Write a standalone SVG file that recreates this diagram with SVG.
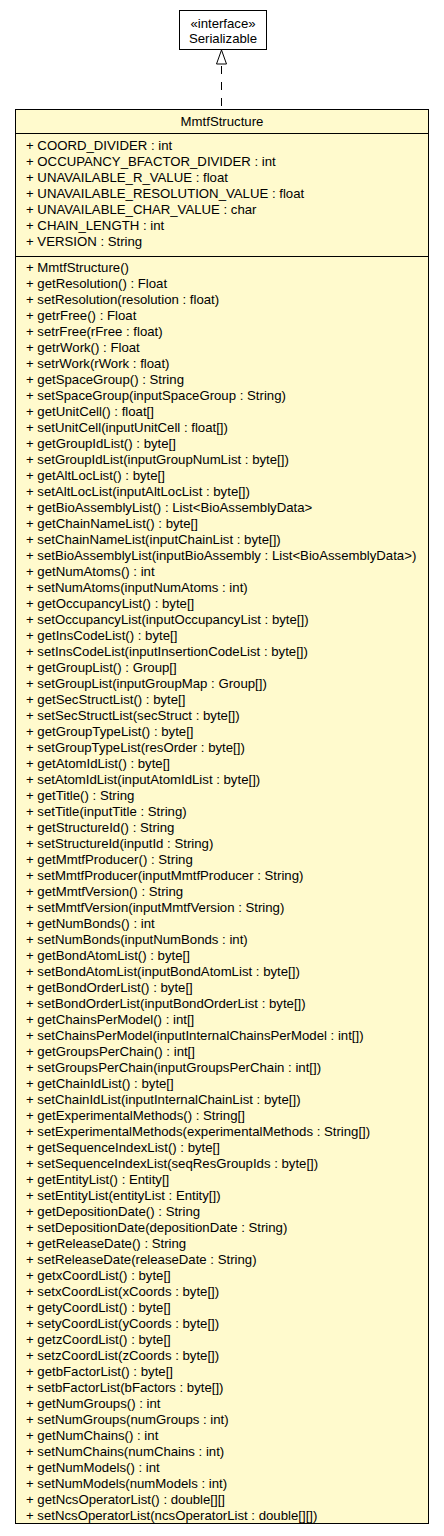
<svg xmlns="http://www.w3.org/2000/svg" width="444" height="1536" viewBox="0 0 444 1536">
<style>
text{font-family:"Liberation Sans",Arial,sans-serif;font-size:13.2px;fill:#000}
.c{text-anchor:middle}
.box{stroke:#000;stroke-width:1}
</style>
<rect width="444" height="1536" fill="#fff"/>
<g id="connectors">
<line x1="221.5" y1="66" x2="221.5" y2="109" stroke="#000" stroke-dasharray="8,8"/>
<polygon points="221.5,50 216.5,64 226.5,64" fill="#fff" stroke="#000"/>
</g>
<g id="Serializable">
<rect class="box" x="179.5" y="10.5" width="87" height="39" fill="#fff"/>
<text class="c" x="223" y="28">«interface»</text>
<text class="c" x="223" y="43">Serializable</text>
</g>
<g id="MmtfStructure">
<rect class="box" x="15.5" y="109.5" width="413" height="1414" fill="#fffacd"/>
<line class="box" x1="15.5" y1="133.5" x2="428.5" y2="133.5"/>
<line class="box" x1="15.5" y1="256.5" x2="428.5" y2="256.5"/>
<text class="c" x="222" y="126">MmtfStructure</text>
<text x="26" y="150">+ COORD_DIVIDER : int</text>
<text x="26" y="166">+ OCCUPANCY_BFACTOR_DIVIDER : int</text>
<text x="26" y="182">+ UNAVAILABLE_R_VALUE : float</text>
<text x="26" y="198">+ UNAVAILABLE_RESOLUTION_VALUE : float</text>
<text x="26" y="214">+ UNAVAILABLE_CHAR_VALUE : char</text>
<text x="26" y="230">+ CHAIN_LENGTH : int</text>
<text x="26" y="246">+ VERSION : String</text>
<text x="26" y="272">+ MmtfStructure()</text>
<text x="26" y="288">+ getResolution() : Float</text>
<text x="26" y="304">+ setResolution(resolution : float)</text>
<text x="26" y="320">+ getrFree() : Float</text>
<text x="26" y="336">+ setrFree(rFree : float)</text>
<text x="26" y="352">+ getrWork() : Float</text>
<text x="26" y="368">+ setrWork(rWork : float)</text>
<text x="26" y="384">+ getSpaceGroup() : String</text>
<text x="26" y="400">+ setSpaceGroup(inputSpaceGroup : String)</text>
<text x="26" y="416">+ getUnitCell() : float[]</text>
<text x="26" y="432">+ setUnitCell(inputUnitCell : float[])</text>
<text x="26" y="448">+ getGroupIdList() : byte[]</text>
<text x="26" y="464">+ setGroupIdList(inputGroupNumList : byte[])</text>
<text x="26" y="480">+ getAltLocList() : byte[]</text>
<text x="26" y="496">+ setAltLocList(inputAltLocList : byte[])</text>
<text x="26" y="512">+ getBioAssemblyList() : List&lt;BioAssemblyData&gt;</text>
<text x="26" y="528">+ getChainNameList() : byte[]</text>
<text x="26" y="544">+ setChainNameList(inputChainList : byte[])</text>
<text x="26" y="560">+ setBioAssemblyList(inputBioAssembly : List&lt;BioAssemblyData&gt;)</text>
<text x="26" y="576">+ getNumAtoms() : int</text>
<text x="26" y="592">+ setNumAtoms(inputNumAtoms : int)</text>
<text x="26" y="608">+ getOccupancyList() : byte[]</text>
<text x="26" y="624">+ setOccupancyList(inputOccupancyList : byte[])</text>
<text x="26" y="640">+ getInsCodeList() : byte[]</text>
<text x="26" y="656">+ setInsCodeList(inputInsertionCodeList : byte[])</text>
<text x="26" y="672">+ getGroupList() : Group[]</text>
<text x="26" y="688">+ setGroupList(inputGroupMap : Group[])</text>
<text x="26" y="704">+ getSecStructList() : byte[]</text>
<text x="26" y="720">+ setSecStructList(secStruct : byte[])</text>
<text x="26" y="736">+ getGroupTypeList() : byte[]</text>
<text x="26" y="752">+ setGroupTypeList(resOrder : byte[])</text>
<text x="26" y="768">+ getAtomIdList() : byte[]</text>
<text x="26" y="784">+ setAtomIdList(inputAtomIdList : byte[])</text>
<text x="26" y="800">+ getTitle() : String</text>
<text x="26" y="816">+ setTitle(inputTitle : String)</text>
<text x="26" y="832">+ getStructureId() : String</text>
<text x="26" y="848">+ setStructureId(inputId : String)</text>
<text x="26" y="864">+ getMmtfProducer() : String</text>
<text x="26" y="880">+ setMmtfProducer(inputMmtfProducer : String)</text>
<text x="26" y="896">+ getMmtfVersion() : String</text>
<text x="26" y="912">+ setMmtfVersion(inputMmtfVersion : String)</text>
<text x="26" y="928">+ getNumBonds() : int</text>
<text x="26" y="944">+ setNumBonds(inputNumBonds : int)</text>
<text x="26" y="960">+ getBondAtomList() : byte[]</text>
<text x="26" y="976">+ setBondAtomList(inputBondAtomList : byte[])</text>
<text x="26" y="992">+ getBondOrderList() : byte[]</text>
<text x="26" y="1008">+ setBondOrderList(inputBondOrderList : byte[])</text>
<text x="26" y="1024">+ getChainsPerModel() : int[]</text>
<text x="26" y="1040">+ setChainsPerModel(inputInternalChainsPerModel : int[])</text>
<text x="26" y="1056">+ getGroupsPerChain() : int[]</text>
<text x="26" y="1072">+ setGroupsPerChain(inputGroupsPerChain : int[])</text>
<text x="26" y="1088">+ getChainIdList() : byte[]</text>
<text x="26" y="1104">+ setChainIdList(inputInternalChainList : byte[])</text>
<text x="26" y="1120">+ getExperimentalMethods() : String[]</text>
<text x="26" y="1136">+ setExperimentalMethods(experimentalMethods : String[])</text>
<text x="26" y="1152">+ getSequenceIndexList() : byte[]</text>
<text x="26" y="1168">+ setSequenceIndexList(seqResGroupIds : byte[])</text>
<text x="26" y="1184">+ getEntityList() : Entity[]</text>
<text x="26" y="1200">+ setEntityList(entityList : Entity[])</text>
<text x="26" y="1216">+ getDepositionDate() : String</text>
<text x="26" y="1232">+ setDepositionDate(depositionDate : String)</text>
<text x="26" y="1248">+ getReleaseDate() : String</text>
<text x="26" y="1264">+ setReleaseDate(releaseDate : String)</text>
<text x="26" y="1280">+ getxCoordList() : byte[]</text>
<text x="26" y="1296">+ setxCoordList(xCoords : byte[])</text>
<text x="26" y="1312">+ getyCoordList() : byte[]</text>
<text x="26" y="1328">+ setyCoordList(yCoords : byte[])</text>
<text x="26" y="1344">+ getzCoordList() : byte[]</text>
<text x="26" y="1360">+ setzCoordList(zCoords : byte[])</text>
<text x="26" y="1376">+ getbFactorList() : byte[]</text>
<text x="26" y="1392">+ setbFactorList(bFactors : byte[])</text>
<text x="26" y="1408">+ getNumGroups() : int</text>
<text x="26" y="1424">+ setNumGroups(numGroups : int)</text>
<text x="26" y="1440">+ getNumChains() : int</text>
<text x="26" y="1456">+ setNumChains(numChains : int)</text>
<text x="26" y="1472">+ getNumModels() : int</text>
<text x="26" y="1488">+ setNumModels(numModels : int)</text>
<text x="26" y="1504">+ getNcsOperatorList() : double[][]</text>
<text x="26" y="1520">+ setNcsOperatorList(ncsOperatorList : double[][])</text>
</g>
</svg>
